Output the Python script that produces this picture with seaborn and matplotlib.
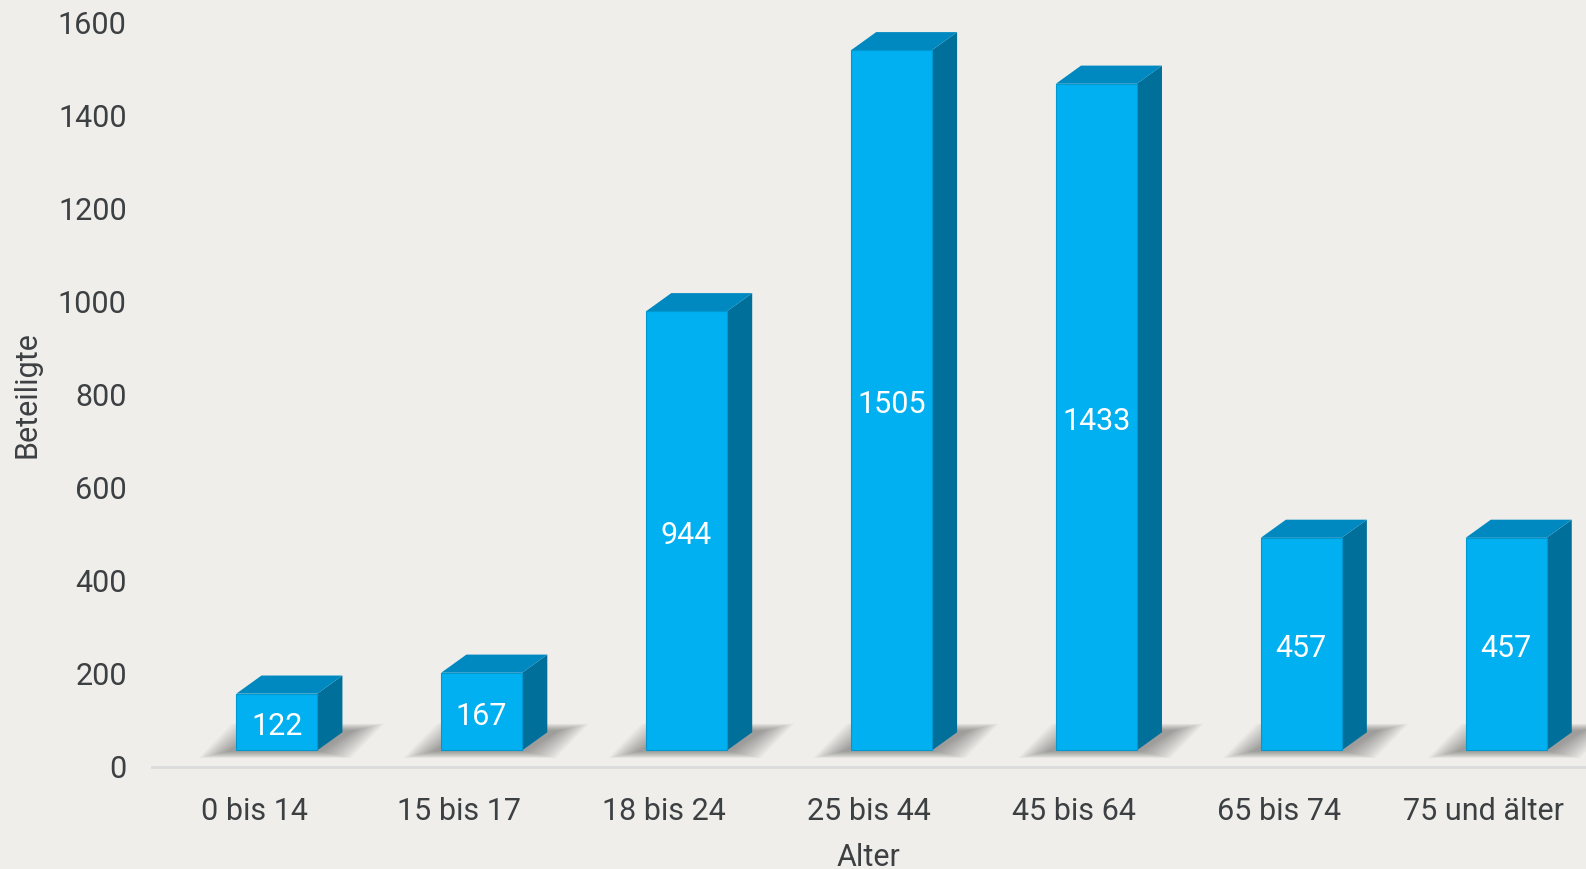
import numpy as np
import matplotlib
matplotlib.use("Agg")
import matplotlib.pyplot as plt
import seaborn as sns
from matplotlib.patches import Polygon

# Daten
kategorien = ["0 bis 14", "15 bis 17", "18 bis 24", "25 bis 44", "45 bis 64", "65 bis 74", "75 und älter"]
werte = [122, 167, 944, 1505, 1433, 457, 457]
y_ticks = [0, 200, 400, 600, 800, 1000, 1200, 1400, 1600]

bg = "#efeeea"
txt = "#3c4043"
front_col = "#00b0f0"
side_col = "#00709b"
top_col = "#0089c1"

sns.set_theme(style="white")
plt.rcParams["font.family"] = ["Roboto", "DejaVu Sans"]

fig = plt.figure(figsize=(15.86, 8.69), dpi=100, facecolor=bg)
ax = fig.add_axes([0.0957, 0.1177, 0.9043, 0.8566])
ax.set_facecolor(bg)

sns.barplot(x=kategorien, y=werte, color=front_col, width=0.395, saturation=1, ax=ax, zorder=3)

# 3D-Effekt: Verschiebung, Tiefe
shift = 0.11
lift = 35
dx, dy = 0.123, 39

for p in ax.patches:
    x0 = p.get_x() + shift
    w = p.get_width()
    h = p.get_height()
    p.set_x(x0)
    p.set_y(lift)
    p.set_edgecolor("#0098d0")
    p.set_linewidth(0.8)
    x1 = x0 + w
    yt = lift + h
    # Schatten (weich, mehrere Lagen)
    n = 14
    for k in range(n):
        gx = 0.011 * k
        gy = 2.2 * k
        shadow = Polygon([(x0 - 0.04 - gx, lift - 2 - gy * 0.5), (x1 + 0.02 + gx, lift - 2 - gy * 0.5),
                          (x1 + dx + 0.06 + gx, lift + dy + 4 + gy * 0.5), (x0 + dx - gx, lift + dy + 4 + gy * 0.5)],
                         closed=True, facecolor="#4a4a4a", edgecolor="none", alpha=0.045, zorder=1)
        ax.add_patch(shadow)
    # Seite
    side = Polygon([(x1, lift), (x1 + dx, lift + dy), (x1 + dx, yt + dy), (x1, yt)],
                   closed=True, facecolor=side_col, edgecolor="none", zorder=2.5)
    ax.add_patch(side)
    # Deckel
    top = Polygon([(x0, yt), (x1, yt), (x1 + dx, yt + dy), (x0 + dx, yt + dy)],
                  closed=True, facecolor=top_col, edgecolor="none", zorder=2.5)
    ax.add_patch(top)
    ax.text(x0 + w / 2, lift + h / 2 - 10, f"{h:.0f}", ha="center", va="center",
            color="white", fontsize=22, zorder=5)

ax.set_xlim(-0.5, 6.5)
ax.set_ylim(0, 1600)
ax.set_yticks(y_ticks)
ax.tick_params(axis="both", labelsize=22, colors=txt, length=0)
ax.tick_params(axis="y", pad=18)
ax.tick_params(axis="x", pad=22)
for s in ["top", "right", "left"]:
    ax.spines[s].set_visible(False)
ax.spines["bottom"].set_color("#d9dbdc")
ax.spines["bottom"].set_linewidth(2)
ax.set_xlabel("Alter", fontsize=22, color=txt, labelpad=12)
ax.set_ylabel("Beteiligte", fontsize=22, color=txt, labelpad=12)

fig.savefig("out.png", dpi=100, facecolor=bg)
